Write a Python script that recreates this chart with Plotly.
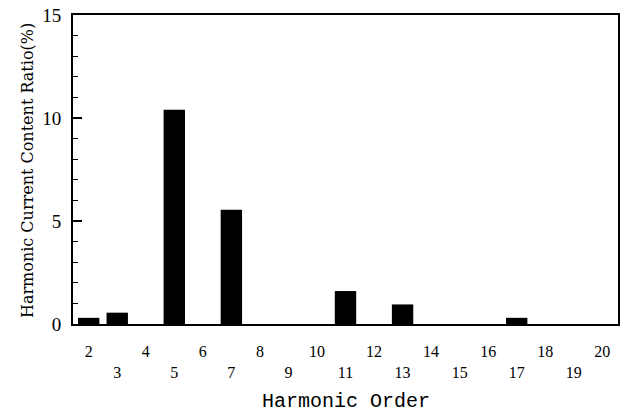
import plotly.graph_objects as go

orders = list(range(2, 21))
ratios = [0.3, 0.55, 0, 10.4, 0, 5.55, 0, 0, 0, 1.6, 0, 0.95, 0, 0, 0, 0.3, 0, 0, 0]
tick_labels = [str(o) if o % 2 == 0 else "<br>" + str(o) for o in orders]
y_ticks = [0, 5, 10, 15]

fig = go.Figure(go.Bar(x=orders, y=ratios, width=0.75, marker=dict(color="black", line=dict(width=0))))

fig.update_layout(
    width=630, height=417,
    margin=dict(l=73, r=12, t=15, b=93, autoexpand=False),
    paper_bgcolor="white", plot_bgcolor="white",
    showlegend=False,
    xaxis=dict(range=[1.45, 20.55], tickvals=orders, ticktext=tick_labels, automargin=False,
               showgrid=False, zeroline=False, ticks="", showline=True, linecolor="black",
               linewidth=2, mirror=True, ticklabelstandoff=12,
               tickfont=dict(family="Liberation Serif", size=16, color="black")),
    yaxis=dict(range=[0, 15], tickvals=y_ticks, showgrid=False, zeroline=False, automargin=False,
               ticks="inside", ticklen=9, tickwidth=1.5, tickcolor="black",
               minor=dict(dtick=1, ticks="inside", ticklen=5, tickwidth=1, tickcolor="black"),
               showline=True, linecolor="black", linewidth=2, mirror=True, ticklabelstandoff=6,
               tickfont=dict(family="Liberation Serif", size=19, color="black")),
    annotations=[
        dict(text="Harmonic Order", xref="paper", yref="paper", x=0.5, y=-0.252,
             xanchor="center", yanchor="middle", showarrow=False,
             font=dict(family="Liberation Mono", size=20, color="black")),
        dict(text="Harmonic Current Content Ratio(%)", xref="paper", yref="paper",
             x=-0.0844, y=0.495, xanchor="center", yanchor="middle", textangle=-90,
             showarrow=False, font=dict(family="DejaVu Serif", size=16, color="black")),
    ],
)

fig.write_html("out.html", config={"displayModeBar": False},
               post_script="document.body.style.margin='0';")
